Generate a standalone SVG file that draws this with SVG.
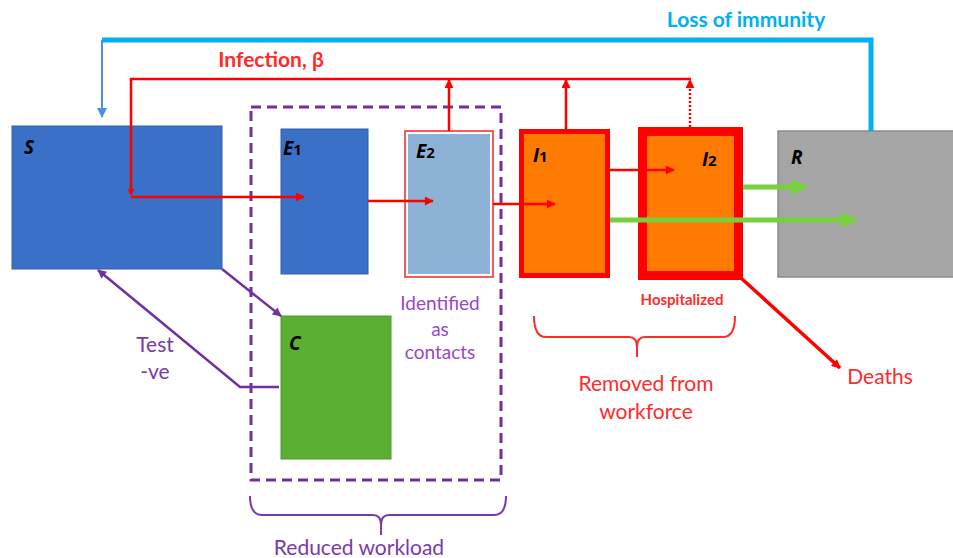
<svg xmlns="http://www.w3.org/2000/svg" width="953" height="558" viewBox="0 0 953 558">
<defs>
<marker id="ar" viewBox="0 0 10 10" refX="9" refY="5" markerWidth="7" markerHeight="7" orient="auto" markerUnits="userSpaceOnUse"><path d="M0,0 L10,5 L0,10 z" fill="#ff0000"/></marker>
<marker id="arr" viewBox="0 0 10 10" refX="9" refY="5" markerWidth="11" markerHeight="9" orient="auto" markerUnits="userSpaceOnUse"><path d="M0,0 L10,5 L0,10 z" fill="#ff0000"/></marker>
<marker id="ag" viewBox="0 0 10 10" refX="9" refY="5" markerWidth="20" markerHeight="16" orient="auto" markerUnits="userSpaceOnUse"><path d="M0,0 L10,5 L0,10 z" fill="#77d13c"/></marker>
<marker id="ap" viewBox="0 0 10 10" refX="9" refY="5" markerWidth="10" markerHeight="9" orient="auto" markerUnits="userSpaceOnUse"><path d="M0,0 L10,5 L0,10 z" fill="#7030a0"/></marker>
<marker id="ab" viewBox="0 0 10 10" refX="9" refY="5" markerWidth="10" markerHeight="10" orient="auto" markerUnits="userSpaceOnUse"><path d="M0,0 L10,5 L0,10 z" fill="#4a8fe0"/></marker>
</defs>
<style>
.lbl{font-family:Lato,"Open Sans","Liberation Sans",sans-serif;}
.nm{font-family:"Open Sans",Lato,"Liberation Sans",sans-serif;font-weight:bold;font-style:italic;font-size:19px;fill:#000;}
.sub{font-style:normal;font-weight:bold;font-size:15px;}
.red{fill:#ff2a2a;font-size:21px;}
.pur{fill:#7a3aa8;font-size:21px;}
.r{stroke:#ff0000;fill:none;}
</style>
<g id="reduced-workload-box">
<rect x="251" y="107" width="250" height="373" fill="none" stroke="#7030a0" stroke-width="3" stroke-dasharray="10,6"/>
</g>
<g id="node-S">
<rect x="12" y="126" width="210" height="143" fill="#3a70c6" stroke="#2f5fa8" stroke-width="1"/>
<text class="nm" x="24" y="154">S</text>
</g>
<g id="node-E1">
<rect x="281" y="129" width="87" height="145" fill="#3a70c6" stroke="#2f5fa8" stroke-width="1"/>
<text class="nm" x="283" y="155">E<tspan class="sub">1</tspan></text>
</g>
<g id="node-E2">
<rect x="405" y="131" width="88" height="146" fill="#fff" stroke="#ff2020" stroke-width="1.5"/>
<rect x="408" y="134" width="82" height="140" fill="#8cb3d6"/>
<text class="nm" x="416" y="158">E<tspan class="sub">2</tspan></text>
</g>
<g id="node-I1">
<rect x="521.5" y="131.5" width="86" height="144" fill="#ff7a00" stroke="#ff0000" stroke-width="5"/>
<text class="nm" x="533" y="162">I<tspan class="sub">1</tspan></text>
</g>
<g id="node-I2">
<rect x="642.5" y="131.5" width="96" height="144" fill="#ff7a00" stroke="#ff0000" stroke-width="9"/>
<text class="nm" x="702" y="166">I<tspan class="sub">2</tspan></text>
<text class="lbl" x="682" y="305" text-anchor="middle" font-size="15" font-weight="bold" fill="#ff2a2a">Hospitalized</text>
</g>
<g id="node-R">
<rect x="778" y="131" width="180" height="146" fill="#a5a5a5" stroke="#8a8a8a" stroke-width="1.5"/>
<text class="nm" x="791" y="164">R</text>
</g>
<g id="node-C">
<rect x="281" y="316" width="110" height="143" fill="#5aaf32" stroke="#4a9a2a" stroke-width="1"/>
<text class="nm" x="289" y="350">C</text>
</g>
<g id="connectors">
<polyline points="871,131 871,40 102,40" fill="none" stroke="#00b0f0" stroke-width="5"/>
<line x1="102" y1="40" x2="102" y2="117" stroke="#4a8fe0" stroke-width="2" marker-end="url(#ab)"/>
<polyline class="r" stroke-width="2.5" points="691,79 131,79 131,195" marker-end="url(#ar)"/>
<line class="r" stroke-width="2.5" x1="131" y1="197" x2="304" y2="197" marker-end="url(#arr)"/>
<line class="r" stroke-width="2.5" x1="449" y1="131" x2="449" y2="80" marker-end="url(#arr)"/>
<line class="r" stroke-width="2.5" x1="566" y1="129" x2="566" y2="80" marker-end="url(#arr)"/>
<line class="r" stroke-width="2.5" stroke-dasharray="2,2" x1="690" y1="127" x2="690" y2="80" marker-end="url(#arr)"/>
<line class="r" stroke-width="2.5" x1="368" y1="201" x2="433" y2="201" marker-end="url(#arr)"/>
<line class="r" stroke-width="2.5" x1="493" y1="204" x2="555" y2="204" marker-end="url(#arr)"/>
<line class="r" stroke-width="2.5" x1="610" y1="170" x2="674" y2="170" marker-end="url(#arr)"/>
<line class="r" stroke-width="3.5" x1="741" y1="278" x2="840" y2="368" marker-end="url(#arr)"/>
<line stroke="#77d13c" stroke-width="5" x1="743" y1="187" x2="806" y2="187" marker-end="url(#ag)"/>
<line stroke="#77d13c" stroke-width="5" x1="610" y1="220" x2="856" y2="220" marker-end="url(#ag)"/>
<line stroke="#7030a0" stroke-width="2.5" x1="222" y1="269" x2="281" y2="316" marker-end="url(#ap)"/>
<polyline fill="none" stroke="#7030a0" stroke-width="2.5" points="279,387 240,387 98,270" marker-end="url(#ap)"/>
</g>
<g id="labels">
<text class="lbl" x="746" y="27" text-anchor="middle" font-size="21" font-weight="bold" fill="#00b0f0">Loss of immunity</text>
<text class="lbl red" x="271" y="67" text-anchor="middle" font-weight="bold">Infection, β</text>
<text class="lbl pur" x="155" y="352" text-anchor="middle">Test</text>
<text class="lbl pur" x="155" y="379" text-anchor="middle">-ve</text>
<text class="lbl" x="440" y="310" text-anchor="middle" font-size="19" fill="#9a45c8">Identified</text>
<text class="lbl" x="440" y="336" text-anchor="middle" font-size="19" fill="#9a45c8">as</text>
<text class="lbl" x="440" y="359" text-anchor="middle" font-size="19" fill="#9a45c8">contacts</text>
<text class="lbl red" x="646" y="391" text-anchor="middle">Removed from</text>
<text class="lbl red" x="646" y="419" text-anchor="middle">workforce</text>
<text class="lbl red" x="880" y="384" text-anchor="middle">Deaths</text>
<text class="lbl pur" x="359" y="555" text-anchor="middle">Reduced workload</text>
</g>
<g id="braces">
<path d="M250,496 Q250,515 262,515 L373,515 Q381,515 381,525 L381,535 M381,525 Q381,515 389,515 L494,515 Q506,515 506,496" fill="none" stroke="#7a3aa8" stroke-width="2"/>
<path d="M534,316 Q534,337 546,337 L629,337 Q637,337 637,347 L637,357 M637,347 Q637,337 645,337 L723,337 Q735,337 735,316" fill="none" stroke="#ff2a2a" stroke-width="2"/>
</g>
</svg>
